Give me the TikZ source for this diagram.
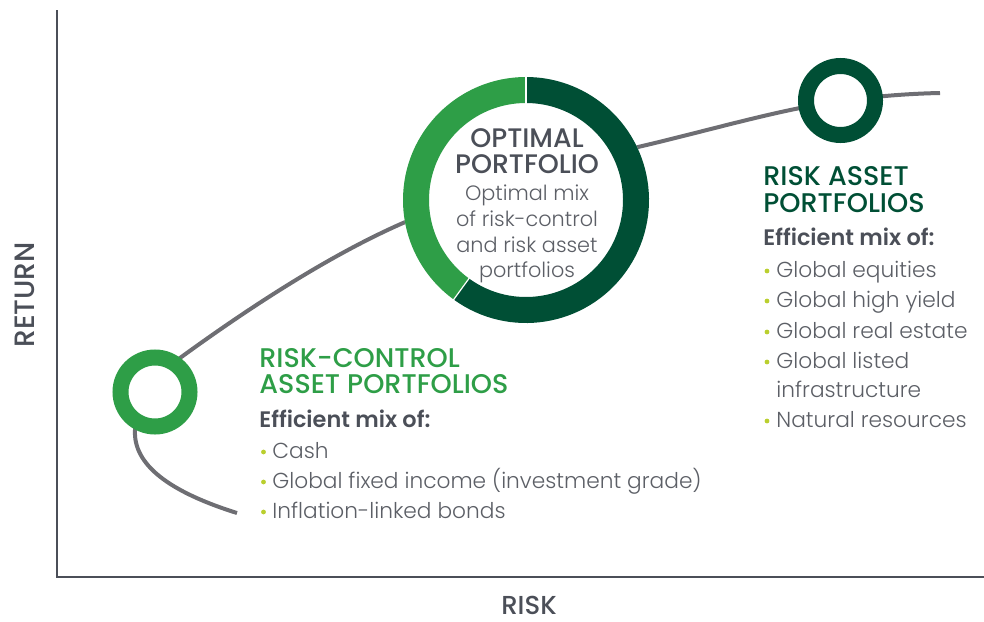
\documentclass[tikz,border=0pt]{standalone}
\usepackage{fontspec}
\setmainfont{Poppins}
\newfontfamily\fhead{Poppins Medium}
\newfontfamily\fsemi{Poppins SemiBold}
\newfontfamily\flight{Poppins Light}
\definecolor{lgreen}{HTML}{2E9E47}
\definecolor{dgreen}{HTML}{004F35}
\definecolor{txtdark}{HTML}{4B4F58}
\definecolor{txtbody}{HTML}{5C5F66}
\definecolor{curvegray}{HTML}{6E6E73}
\definecolor{bulletc}{HTML}{BACF2E}
\begin{document}
\begin{tikzpicture}[x=0.5pt,y=-0.5pt,
  axis/.style={draw=txtdark, line width=0.75pt},
  frontier/.style={draw=curvegray, line width=2pt},
  ring/.style={circle, fill=white, line width=8pt, minimum size=34.5pt, inner sep=0pt},
  axislabel/.style={font=\fhead\fontsize{14pt}{16pt}\selectfont, text=txtdark, inner sep=0pt},
  heading/.style={font=\fhead\fontsize{13.5pt}{15pt}\selectfont, anchor=base west, inner sep=0pt},
  mixlabel/.style={font=\fsemi\fontsize{11.2pt}{13pt}\selectfont, text=txtdark, anchor=base west, inner sep=0pt},
  item/.style={font=\flight\fontsize{10.85pt}{13pt}\selectfont, text=txtbody, anchor=base west, inner sep=0pt},
  dot/.style={circle, fill=bulletc, minimum size=2.4pt, inner sep=0pt},
  opthead/.style={font=\fhead\fontsize{13.4pt}{15pt}\selectfont, text=txtdark, anchor=base, inner sep=0pt},
  optbody/.style={font=\flight\fontsize{10.4pt}{13pt}\selectfont, text=txtbody, anchor=base, inner sep=0pt}]
\useasboundingbox (0,0) rectangle (984,621);

% axes
\coordinate (top) at (57,10);
\coordinate (origin) at (57,577);
\coordinate (right) at (984,577);
\draw[axis] (top) -- (origin) -- (right);
\node[axislabel, rotate=90] (return) at (25,295) {RETURN};
\node[axislabel, font=\fhead\fontsize{13pt}{15pt}\selectfont, anchor=base] (risk) at (529,614) {RISK};

% efficient frontier
\draw[frontier] (237,513) .. controls (170,492) and (133,465) .. (135,430)
  .. controls (137,395) and (150,380) .. (180,358)
  .. controls (250,307) and (330,255) .. (403,223)
  .. controls (480,190) and (560,165) .. (638,147)
  .. controls (690,135) and (750,118) .. (800,108)
  .. controls (840,100) and (890,94) .. (940,93);

% rings on the frontier
\node[ring, draw=lgreen] (lowring) at (155,392) {};
\node[ring, draw=dgreen] (highring) at (840.5,100.5) {};
\node[circle, fill=white, minimum size=123pt, inner sep=0pt] (optring) at (526,200) {};
\draw[lgreen, line width=13pt] (optring.center) ++(90:55pt) arc[start angle=90, end angle=234, radius=55pt];
\draw[dgreen, line width=13pt] (optring.center) ++(234:55pt) arc[start angle=234, end angle=450, radius=55pt];
\draw[white, line width=0.6pt] (optring.center) ++(90:48pt) -- ++(90:14pt);
\draw[white, line width=0.6pt] (optring.center) ++(234:48pt) -- ++(234:14pt);

% optimal portfolio text
\node[opthead] (o1) at (527,147) {OPTIMAL};
\node[opthead] (o2) at (527,173) {PORTFOLIO};
\node[optbody] (o3) at (527,200) {Optimal mix};
\node[optbody] (o4) at (527,226) {of risk-control};
\node[optbody] (o5) at (527,252) {and risk asset};
\node[optbody] (o6) at (527,277) {portfolios};

% risk-control block
\node[heading, text=lgreen] (rc1) at (259,367) {RISK-CONTROL};
\node[heading, text=lgreen] (rc2) at (259,393) {ASSET PORTFOLIOS};
\node[mixlabel] (rcm) at (259,427) {Efficient mix of:};
\node[dot] (rcd1) at (263.5,452) {};
\node[item] (rci1) at (272,458) {Cash};
\node[dot] (rcd2) at (263.5,482) {};
\node[item] (rci2) at (272,488) {Global fixed income (investment grade)};
\node[dot] (rcd3) at (263.5,512) {};
\node[item] (rci3) at (272,518) {Inflation-linked bonds};

% risk asset block
\node[heading, text=dgreen] (ra1) at (763,185) {RISK ASSET};
\node[heading, text=dgreen] (ra2) at (763,212) {PORTFOLIOS};
\node[mixlabel] (ram) at (763,245) {Efficient mix of:};
\node[dot] (rad1) at (767,271) {};
\node[item] (rai1) at (776,277) {Global equities};
\node[dot] (rad2) at (767,301) {};
\node[item] (rai2) at (776,307) {Global high yield};
\node[dot] (rad3) at (767,332) {};
\node[item] (rai3) at (776,338) {Global real estate};
\node[dot] (rad4) at (767,362) {};
\node[item] (rai4) at (776,368) {Global listed};
\node[item] (rai5) at (776,397) {infrastructure};
\node[dot] (rad6) at (767,421) {};
\node[item] (rai6) at (776,427) {Natural resources};
\end{tikzpicture}
\end{document}
